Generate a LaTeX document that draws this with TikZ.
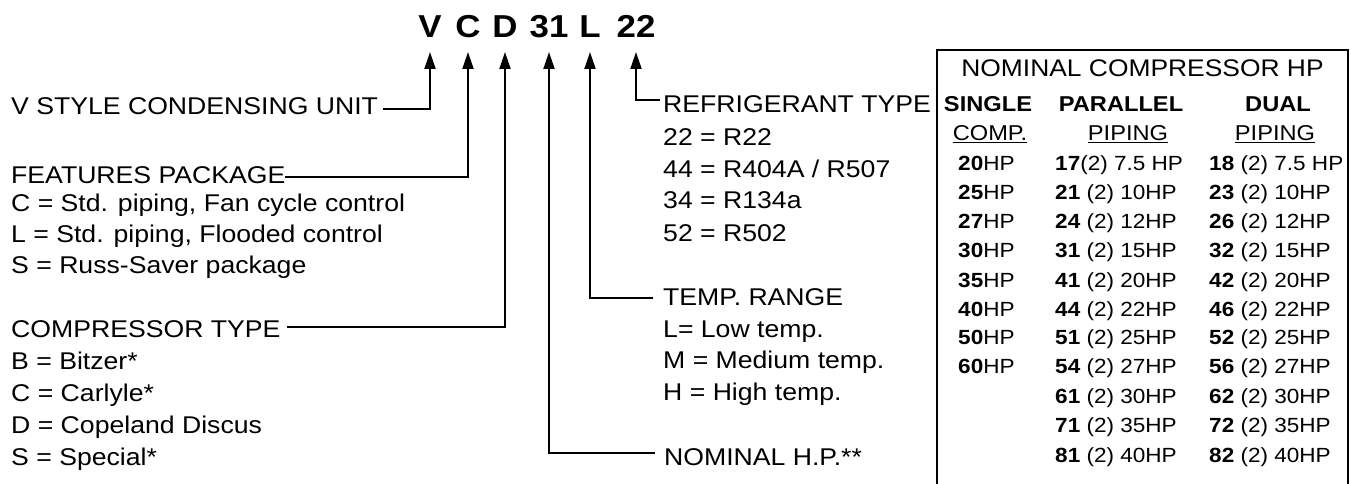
\documentclass[tikz,border=0pt]{standalone}
\usepackage{fontspec}
\setmainfont{Liberation Sans}[FakeStretch=1.1]
\usetikzlibrary{arrows.meta}
\begin{document}
\begin{tikzpicture}[x=1pt,y=-1pt,
  lbl/.style={anchor=base west,inner sep=0pt,font=\fontsize{24.2}{28}\selectfont},
  codepart/.style={anchor=base,inner sep=0pt,font=\fontsize{31.7}{36}\selectfont\bfseries},
  arr/.style={line width=2pt,-{Triangle[length=17pt,width=11pt]}},
  tcap/.style={anchor=base,inner sep=0pt,font=\fontsize{24}{28}\selectfont},
  thead/.style={anchor=base,inner sep=0pt,font=\fontsize{21.5}{25}\selectfont\bfseries},
  tsub/.style={anchor=base,inner sep=0pt,font=\fontsize{21.5}{25}\selectfont},
  trow/.style={anchor=base west,inner sep=0pt,font=\fontsize{20.5}{24}\selectfont},
  uline/.style={line width=1.4pt},
  frame/.style={line width=2.2pt}
]
\useasboundingbox (0,0) rectangle (1351,484);

% model code
\node[codepart] (tV) at (430,37.7) {V};
\node[codepart] (tC) at (468,37.7) {C};
\node[codepart] (tD) at (505,37.7) {D};
\node[codepart] (t31) at (549,37.7) {31};
\node[codepart] (tL) at (590,37.7) {L};
\node[codepart] (t22) at (636,37.7) {22};

% left labels
\node[lbl] (lV) at (11,115) {V STYLE CONDENSING UNIT};
\node[lbl] (lF) at (11,183) {FEATURES PACKAGE};
\node[lbl] (lF1) at (11,211) {C = Std. piping, Fan cycle control};
\node[lbl] (lF2) at (11,242) {L = Std. piping, Flooded control};
\node[lbl] (lF3) at (11,273) {S = Russ-Saver package};
\node[lbl] (lD) at (11,337) {COMPRESSOR TYPE};
\node[lbl] (lD1) at (11,369) {B = Bitzer*};
\node[lbl] (lD2) at (11,401) {C = Carlyle*};
\node[lbl] (lD3) at (11,433) {D = Copeland Discus};
\node[lbl] (lD4) at (11,465) {S = Special*};

% middle labels
\node[lbl] (lR) at (663,113) {REFRIGERANT TYPE};
\node[lbl] (lR1) at (663,145) {22 = R22};
\node[lbl] (lR2) at (663,177) {44 = R404A / R507};
\node[lbl] (lR3) at (663,208) {34 = R134a};
\node[lbl] (lR4) at (663,241) {52 = R502};
\node[lbl] (lT) at (663,305) {TEMP. RANGE};
\node[lbl] (lT1) at (663,337) {L= Low temp.};
\node[lbl] (lT2) at (663,368) {M = Medium temp.};
\node[lbl] (lT3) at (663,400) {H = High temp.};
\node[lbl] (lN) at (664,465) {NOMINAL H.P.**};

% connector free ends
\coordinate (cV) at (383,109);
\coordinate (cC) at (285,177);
\coordinate (cD) at (287,327);
\coordinate (c31) at (655,453);
\coordinate (cL) at (653,298);
\coordinate (c22) at (660,100);

\draw[arr] (cV) -| ([yshift=-14.3pt]tV.base);
\draw[arr] (cC) -| ([yshift=-14.3pt]tC.base);
\draw[arr] (cD) -| ([yshift=-14.3pt]tD.base);
\draw[arr] (c31) -| ([yshift=-14.3pt]t31.base);
\draw[arr] (cL) -| ([yshift=-14.3pt]tL.base);
\draw[arr] (c22) -| ([yshift=-14.3pt]t22.base);

% table frame
\draw[frame] (937,484) -- (937,50) -- (1348,50) -- (1348,484);

\node[tcap] (ttl) at (1142.5,77) {NOMINAL COMPRESSOR HP};
\node[thead] (hs) at (988,112) {SINGLE};
\node[thead] (hp) at (1121,112) {PARALLEL};
\node[thead] (hd) at (1278,112) {DUAL};
\node[tsub] (us) at (990,140) {COMP.};
\node[tsub] (up) at (1128,140) {PIPING};
\node[tsub] (ud) at (1275,140) {PIPING};
\draw[uline] ([yshift=-2.5pt]us.base west) -- ([yshift=-2.5pt]us.base east);
\draw[uline] ([yshift=-2.5pt]up.base west) -- ([yshift=-2.5pt]up.base east);
\draw[uline] ([yshift=-2.5pt]ud.base west) -- ([yshift=-2.5pt]ud.base east);

% rows
\node[trow] (s1) at (958,170) {\textbf{20}HP};
\node[trow] (p1) at (1055,170) {\textbf{17}(2) 7.5 HP};
\node[trow] (d1) at (1209,170) {\textbf{18} (2) 7.5 HP};
\node[trow] (s2) at (958,199) {\textbf{25}HP};
\node[trow] (p2) at (1055,199) {\textbf{21} (2) 10HP};
\node[trow] (d2) at (1209,199) {\textbf{23} (2) 10HP};
\node[trow] (s3) at (958,228) {\textbf{27}HP};
\node[trow] (p3) at (1055,228) {\textbf{24} (2) 12HP};
\node[trow] (d3) at (1209,228) {\textbf{26} (2) 12HP};
\node[trow] (s4) at (958,257) {\textbf{30}HP};
\node[trow] (p4) at (1055,257) {\textbf{31} (2) 15HP};
\node[trow] (d4) at (1209,257) {\textbf{32} (2) 15HP};
\node[trow] (s5) at (958,287) {\textbf{35}HP};
\node[trow] (p5) at (1055,287) {\textbf{41} (2) 20HP};
\node[trow] (d5) at (1209,287) {\textbf{42} (2) 20HP};
\node[trow] (s6) at (958,316) {\textbf{40}HP};
\node[trow] (p6) at (1055,316) {\textbf{44} (2) 22HP};
\node[trow] (d6) at (1209,316) {\textbf{46} (2) 22HP};
\node[trow] (s7) at (958,344) {\textbf{50}HP};
\node[trow] (p7) at (1055,344) {\textbf{51} (2) 25HP};
\node[trow] (d7) at (1209,344) {\textbf{52} (2) 25HP};
\node[trow] (s8) at (958,373) {\textbf{60}HP};
\node[trow] (p8) at (1055,373) {\textbf{54} (2) 27HP};
\node[trow] (d8) at (1209,373) {\textbf{56} (2) 27HP};
\node[trow] (p9) at (1055,403) {\textbf{61} (2) 30HP};
\node[trow] (d9) at (1209,403) {\textbf{62} (2) 30HP};
\node[trow] (p10) at (1055,432) {\textbf{71} (2) 35HP};
\node[trow] (d10) at (1209,432) {\textbf{72} (2) 35HP};
\node[trow] (p11) at (1055,462) {\textbf{81} (2) 40HP};
\node[trow] (d11) at (1209,462) {\textbf{82} (2) 40HP};
\end{tikzpicture}
\end{document}
